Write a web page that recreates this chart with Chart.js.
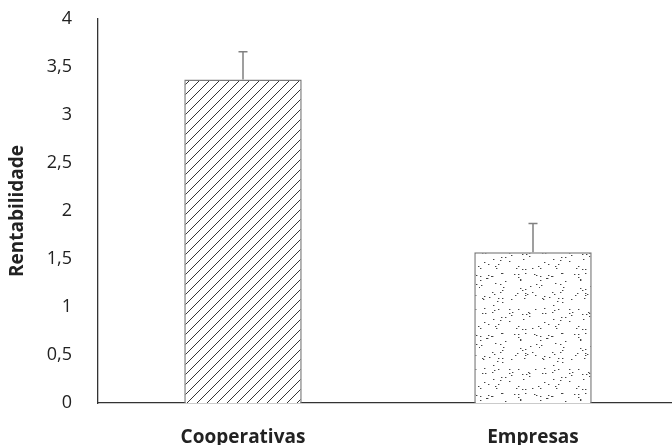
<!DOCTYPE html>
<html>
<head>
<meta charset="utf-8">
<script src="https://cdn.jsdelivr.net/npm/chart.js@4"></script>
<style>
  html, body { margin: 0; padding: 0; background: #fff; }
  #wrap { width: 672px; height: 445px; }
</style>
</head>
<body>
<div id="wrap"><canvas id="chart"></canvas></div>
<script>
// chart data
const categories = ["Cooperativas", "Empresas"];
const rentabilidade = [3.37, 1.57];
const errorTop = [3.66, 1.87];
const yTicks = [0, 0.5, 1, 1.5, 2, 2.5, 3, 3.5, 4];

// diagonal hatch "/" for first bar
function hatchPattern() {
  let c = document.createElement("canvas");
  c.width = 10; c.height = 10;
  let g = c.getContext("2d");
  g.fillStyle = "#fff";
  g.fillRect(0, 0, 10, 10);
  g.strokeStyle = "#333";
  g.lineWidth = 1;
  g.beginPath();
  g.moveTo(0, 10); g.lineTo(10, 0);
  g.moveTo(-5, 5); g.lineTo(5, -5);
  g.moveTo(5, 15); g.lineTo(15, 5);
  g.stroke();
  return c;
}

// speckled texture for second bar (fixed seed, just a fill texture)
function dotPattern() {
  let c = document.createElement("canvas");
  c.width = 60; c.height = 60;
  let g = c.getContext("2d");
  g.fillStyle = "#fff";
  g.fillRect(0, 0, 60, 60);
  g.fillStyle = "#444";
  let s = 17;
  for (let i = 0; i < 85; i++) {
    s = (s * 1103515245 + 12345) % 2147483648;
    let x = (s >> 8) % 60;
    s = (s * 1103515245 + 12345) % 2147483648;
    let y = (s >> 8) % 60;
    g.fillRect(x, y, 1.4, 1);
  }
  return c;
}

let ctx = document.getElementById("chart").getContext("2d");
let fills = [
  ctx.createPattern(hatchPattern(), "repeat"),
  ctx.createPattern(dotPattern(), "repeat"),
];

const errorBars = {
  id: "errorBars",
  afterDatasetsDraw(chart) {
    let meta = chart.getDatasetMeta(0);
    let y = chart.scales.y;
    let g = chart.ctx;
    g.save();
    g.strokeStyle = "#808080";
    g.lineWidth = 1.5;
    meta.data.forEach((bar, i) => {
      let top = y.getPixelForValue(errorTop[i]);
      g.beginPath();
      g.moveTo(bar.x, bar.y);
      g.lineTo(bar.x, top);
      g.moveTo(bar.x - 4.5, top);
      g.lineTo(bar.x + 4.5, top);
      g.stroke();
    });
    g.restore();
  },
};

// the original plot runs a little past the right edge of the image
const widenX = {
  id: "widenX",
  afterLayout(chart) {
    let x = chart.scales.x;
    x.right = chart.width + 6;
    x.width = x.right - x.left;
    chart.chartArea.right = x.right;
    chart.chartArea.width = x.width;
    x.configure();
  },
};

const fontFamily = "'Open Sans', 'Noto Sans', sans-serif";

new Chart(ctx, {
  type: "bar",
  data: {
    labels: categories,
    datasets: [
      {
        data: rentabilidade,
        backgroundColor: fills,
        borderColor: "#7a7a7a",
        borderWidth: 1.5,
        barPercentage: 0.405,
        categoryPercentage: 1,
      },
    ],
  },
  options: {
    responsive: true,
    maintainAspectRatio: false,
    animation: false,
    events: [],
    layout: { padding: 0 },
    plugins: {
      legend: { display: false },
      tooltip: { enabled: false },
    },
    scales: {
      x: {
        grid: { display: false, drawTicks: false },
        border: { display: true, color: "#333", width: 1.3 },
        ticks: {
          color: "#222",
          padding: 23,
          font: { family: fontFamily, size: 19, weight: "bold" },
        },
        afterFit(scale) { scale.height = 42; },
      },
      y: {
        min: 0,
        max: 4,
        afterBuildTicks(scale) {
          scale.ticks = yTicks.map((v) => ({ value: v }));
        },
        grid: { display: false, drawTicks: false },
        border: { display: true, color: "#333", width: 1.3 },
        ticks: {
          color: "#222",
          padding: 26,
          font: { family: fontFamily, size: 18 },
          callback: (v) => String(v).replace(".", ","),
        },
        title: {
          display: true,
          text: "Rentabilidade",
          color: "#222",
          padding: { top: 6, bottom: 8 },
          font: { family: fontFamily, size: 19, weight: "bold" },
        },
        afterFit(scale) {
          scale.width = 98;
          scale.paddingTop = 19;
          scale.paddingBottom = 0;
        },
      },
    },
  },
  plugins: [widenX, errorBars],
});
</script>
</body>
</html>
